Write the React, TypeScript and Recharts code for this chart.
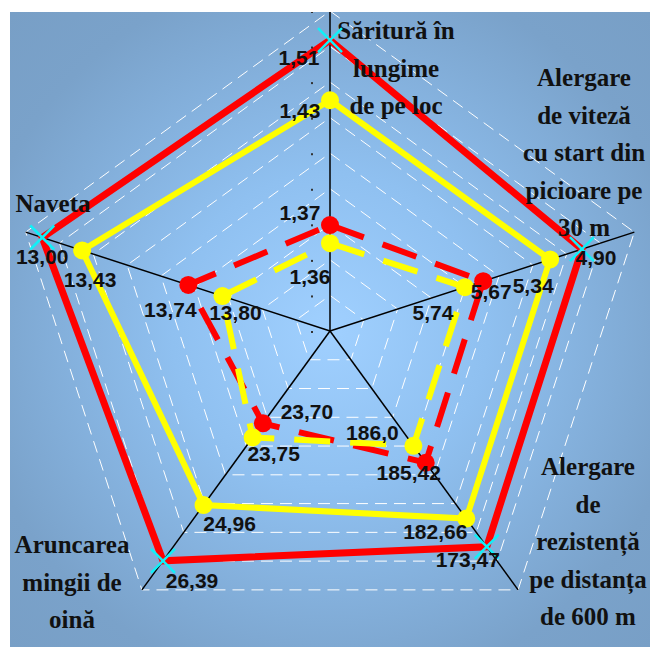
import { RadarChart, Radar, PolarGrid, PolarAngleAxis, PolarRadiusAxis, LabelList } from "recharts";

const W = 640;
const H = 635;
const cx = 320;
const cy = 319;
const oR = 320;

const categories = [
  "Săritură în lungime de pe loc",
  "Alergare de viteză cu start din picioare pe 30 m",
  "Alergare de rezistență pe distanța de 600 m",
  "Aruncarea mingii de oină",
  "Naveta",
];

// plotted score on the 0-9 ring scale
const redSolid = [8.18, 7.45, 7.5, 7.99, 8.51];
const yellowSolid = [6.49, 6.51, 6.52, 6.05, 7.33];
const redDashed = [2.98, 4.53, 4.58, 3.21, 4.19];
const yellowDashed = [2.47, 3.99, 3.99, 3.7, 3.18];

// shown values
const redSolidText = ["1,51", "4,90", "173,47", "26,39", "13,00"];
const yellowSolidText = ["1,43", "5,34", "182,66", "24,96", "13,43"];
const redDashedText = ["1,37", "5,67", "185,42", "23,70", "13,74"];
const yellowDashedText = ["1,36", "5,74", "186,0", "23,75", "13,80"];

const data = categories.map((c, i) => ({
  axis: c,
  redSolid: redSolid[i],
  yellowSolid: yellowSolid[i],
  redDashed: redDashed[i],
  yellowDashed: yellowDashed[i],
  redSolidText: redSolidText[i],
  yellowSolidText: yellowSolidText[i],
  redDashedText: redDashedText[i],
  yellowDashedText: yellowDashedText[i],
}));

// label offsets from the point, per axis
const offsets: Record<string, number[][]> = {
  redSolid: [[-31, 17], [14, 8], [-19, 13], [29, 20], [0, 19]],
  yellowSolid: [[-30, 10], [-17, 26], [-31, 13], [26, 18], [8, 29]],
  redDashed: [[-30, -13], [8, 10], [-17, 10], [44, -12], [-18, 25]],
  yellowDashed: [[-20, 33], [-32, 25], [-41, -13], [21, 16], [13, 16]],
};

// axis title lines and where they sit
const titles = [
  { x: 386, y: 27, lines: ["Săritură în", "lungime", "de pe loc"] },
  { x: 574, y: 74, lines: ["Alergare", "de viteză", "cu start din", "picioare pe", "30 m"] },
  { x: 578, y: 463, lines: ["Alergare", "de", "rezistență", "pe distanța", "de 600 m"] },
  { x: 62, y: 541, lines: ["Aruncarea", "mingii de", "oină"] },
  { x: 43, y: 200, lines: ["Naveta"] },
];

const makeLabel = (key: string) => (props: any) => {
  const { x, y, index, value } = props;
  const o = offsets[key][index] || [0, 0];
  return (
    <text
      x={x + o[0]}
      y={y + o[1] + 7.5}
      textAnchor="middle"
      fontFamily="'Liberation Sans', Arial, sans-serif"
      fontWeight="bold"
      fontSize={21}
      fill="#111"
    >
      {value}
    </text>
  );
};

const AngleTick = (props: any) => {
  const t = titles[props.index];
  if (!t) return null;
  return (
    <text
      textAnchor="middle"
      fontFamily="'Liberation Serif', 'Times New Roman', serif"
      fontWeight="bold"
      fontSize={25}
      fill="#111"
    >
      {t.lines.map((l, i) => (
        <tspan key={i} x={t.x} y={t.y + i * 37.5}>
          {l}
        </tspan>
      ))}
    </text>
  );
};

const RadiusTick = (props: any) => (
  <rect x={props.x - 19} y={props.y} width={2} height={2} fill="#333" />
);

const CrossDot = (props: any) => {
  const { cx: x, cy: y } = props;
  const s = 12;
  return (
    <g key={`x-${x}-${y}`}>
      <line x1={x - s} y1={y - s} x2={x + s} y2={y + s} stroke="#10f0f8" strokeWidth={2.5} />
      <line x1={x - s} y1={y + s} x2={x + s} y2={y - s} stroke="#10f0f8" strokeWidth={2.5} />
    </g>
  );
};

const App = () => {
  return (
    <div
      style={{
        position: "absolute",
        left: 10,
        top: 12,
        width: W,
        height: H,
        background: "radial-gradient(circle at 320px 319px, #a0d0ff 0%, #8fc0f0 35%, #7aa2ca 80%, #789fc6 100%)",
      }}
    >
      <RadarChart width={W} height={H} data={data} cx={cx} cy={cy} outerRadius={oR} margin={{ top: 0, right: 0, bottom: 0, left: 0 }}>
        <PolarGrid gridType="polygon" radialLines={false} stroke="#ffffff" strokeWidth={1} strokeDasharray="12 7" />
        <PolarGrid gridType="polygon" polarRadius={[0]} stroke="#000000" strokeWidth={1.5} />
        <PolarAngleAxis dataKey="axis" axisLine={false} tickLine={false} tick={AngleTick} />
        <PolarRadiusAxis angle={90} domain={[0, 9]} tickCount={10} axisLine={false} tickLine={false} tick={RadiusTick} />
        <Radar
          dataKey="redSolid"
          stroke="#ff0000"
          strokeWidth={7}
          fill="none"
          fillOpacity={0}
          dot={CrossDot}
          isAnimationActive={false}
        >
          <LabelList dataKey="redSolidText" content={makeLabel("redSolid")} />
        </Radar>
        <Radar
          dataKey="yellowSolid"
          stroke="#ffff00"
          strokeWidth={6}
          fill="none"
          fillOpacity={0}
          dot={{ r: 9, fill: "#ffff00", stroke: "none", fillOpacity: 1 }}
          isAnimationActive={false}
        >
          <LabelList dataKey="yellowSolidText" content={makeLabel("yellowSolid")} />
        </Radar>
        <Radar
          dataKey="redDashed"
          stroke="#ff0000"
          strokeWidth={6}
          strokeDasharray="36 20"
          fill="none"
          fillOpacity={0}
          dot={{ r: 9, fill: "#ff0000", stroke: "none", fillOpacity: 1, strokeDasharray: "" }}
          isAnimationActive={false}
        >
          <LabelList dataKey="redDashedText" content={makeLabel("redDashed")} />
        </Radar>
        <Radar
          dataKey="yellowDashed"
          stroke="#ffff00"
          strokeWidth={6}
          strokeDasharray="36 20"
          fill="none"
          fillOpacity={0}
          dot={{ r: 9, fill: "#ffff00", stroke: "none", fillOpacity: 1, strokeDasharray: "" }}
          isAnimationActive={false}
        >
          <LabelList dataKey="yellowDashedText" content={makeLabel("yellowDashed")} />
        </Radar>
      </RadarChart>
    </div>
  );
};

export default App;
